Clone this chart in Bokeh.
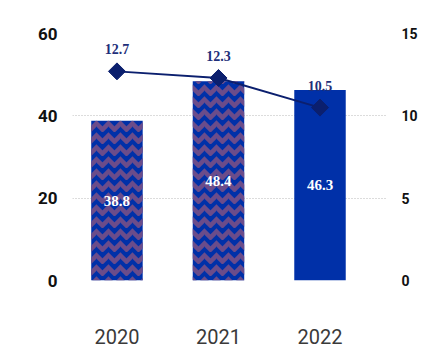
import numpy as np
from bokeh.plotting import figure
from bokeh.models import Range1d, LinearAxis, FixedTicker, ColumnDataSource
from bokeh.core.properties import value
from bokeh.embed import file_html
from bokeh.resources import INLINE

years = ["2020", "2021", "2022"]
bar_values = [38.8, 48.4, 46.3]
line_values = [12.7, 12.3, 10.5]
patterned = [True, True, False]
left_ticks = [0, 20, 40, 60]
right_ticks = [0, 5, 10, 15]

BLUE = "#0030a8"
HATCH = "#6b4c8a"
NAVY = "#0b1f6e"

x = list(range(len(years)))

p = figure(width=445, height=360, output_backend="svg", toolbar_location=None,
           x_range=Range1d(-0.438, 2.655), y_range=Range1d(0, 60),
           min_border_left=72, min_border_right=59, min_border_top=33, min_border_bottom=80)
p.outline_line_color = None
p.background_fill_color = "white"
p.border_fill_color = "white"
p.extra_y_ranges = {"r": Range1d(0, 15)}

# grid
p.xgrid.visible = False
p.ygrid.ticker = FixedTicker(ticks=left_ticks)
p.ygrid.grid_line_color = "#b8b8b8"
p.ygrid.grid_line_dash = "1 2"
p.ygrid.grid_line_width = 1

# bars
src = ColumnDataSource(dict(x=x, top=bar_values, half=[v / 2 for v in bar_values],
                            lab=[f"{v:.1f}" for v in bar_values],
                            hatch=["horizontal_wave" if f else " " for f in patterned]))
p.vbar(x="x", top="top", width=0.507, source=src, fill_color=BLUE, line_color=None,
       hatch_pattern="hatch", hatch_color=HATCH, hatch_weight=4.5, hatch_scale=12)
p.text(x="x", y="half", text="lab", source=src, text_color="white",
       text_font=value("Liberation Serif"), text_font_style="bold", text_font_size="15px",
       text_align="center", text_baseline="middle")

# line
lsrc = ColumnDataSource(dict(x=x, y=line_values, lab=[f"{v:.1f}" for v in line_values]))
p.line(x="x", y="y", source=lsrc, y_range_name="r", line_color=NAVY, line_width=2)
p.scatter(x="x", y="y", source=lsrc, y_range_name="r", marker="square", angle=np.pi / 4,
          size=12, fill_color=NAVY, line_color=NAVY)
p.text(x="x", y="y", text="lab", source=lsrc, y_range_name="r", text_color="#1e2f7a",
       text_font=value("Liberation Serif"), text_font_style="bold", text_font_size="14px",
       text_align="center", text_baseline="bottom", y_offset=-17)

# axes
p.xaxis.ticker = FixedTicker(ticks=x)
p.xaxis.major_label_overrides = {i: y for i, y in enumerate(years)}
p.xaxis.major_label_text_font = "Roboto"
p.xaxis.major_label_text_font_size = "20px"
p.xaxis.major_label_text_color = "#3a3a3a"
p.xaxis.major_label_standoff = 42
p.xaxis.axis_line_color = None
p.xaxis.major_tick_line_color = None
p.xaxis.minor_tick_line_color = None

p.yaxis.ticker = FixedTicker(ticks=left_ticks)
p.yaxis.major_label_text_font = "Roboto"
p.yaxis.major_label_text_font_style = "bold"
p.yaxis.major_label_text_font_size = "17px"
p.yaxis.major_label_text_color = "#111111"
p.yaxis.major_label_standoff = 9
p.yaxis.axis_line_color = None
p.yaxis.major_tick_line_color = None
p.yaxis.minor_tick_line_color = None

ra = LinearAxis(y_range_name="r", ticker=FixedTicker(ticks=right_ticks))
ra.major_label_text_font = "Roboto"
ra.major_label_text_font_style = "bold"
ra.major_label_text_font_size = "14px"
ra.major_label_text_color = "#111111"
ra.major_label_standoff = 9
ra.axis_line_color = None
ra.major_tick_line_color = None
ra.minor_tick_line_color = None
p.add_layout(ra, "right")

open("out.html", "w").write(file_html(p, INLINE))
